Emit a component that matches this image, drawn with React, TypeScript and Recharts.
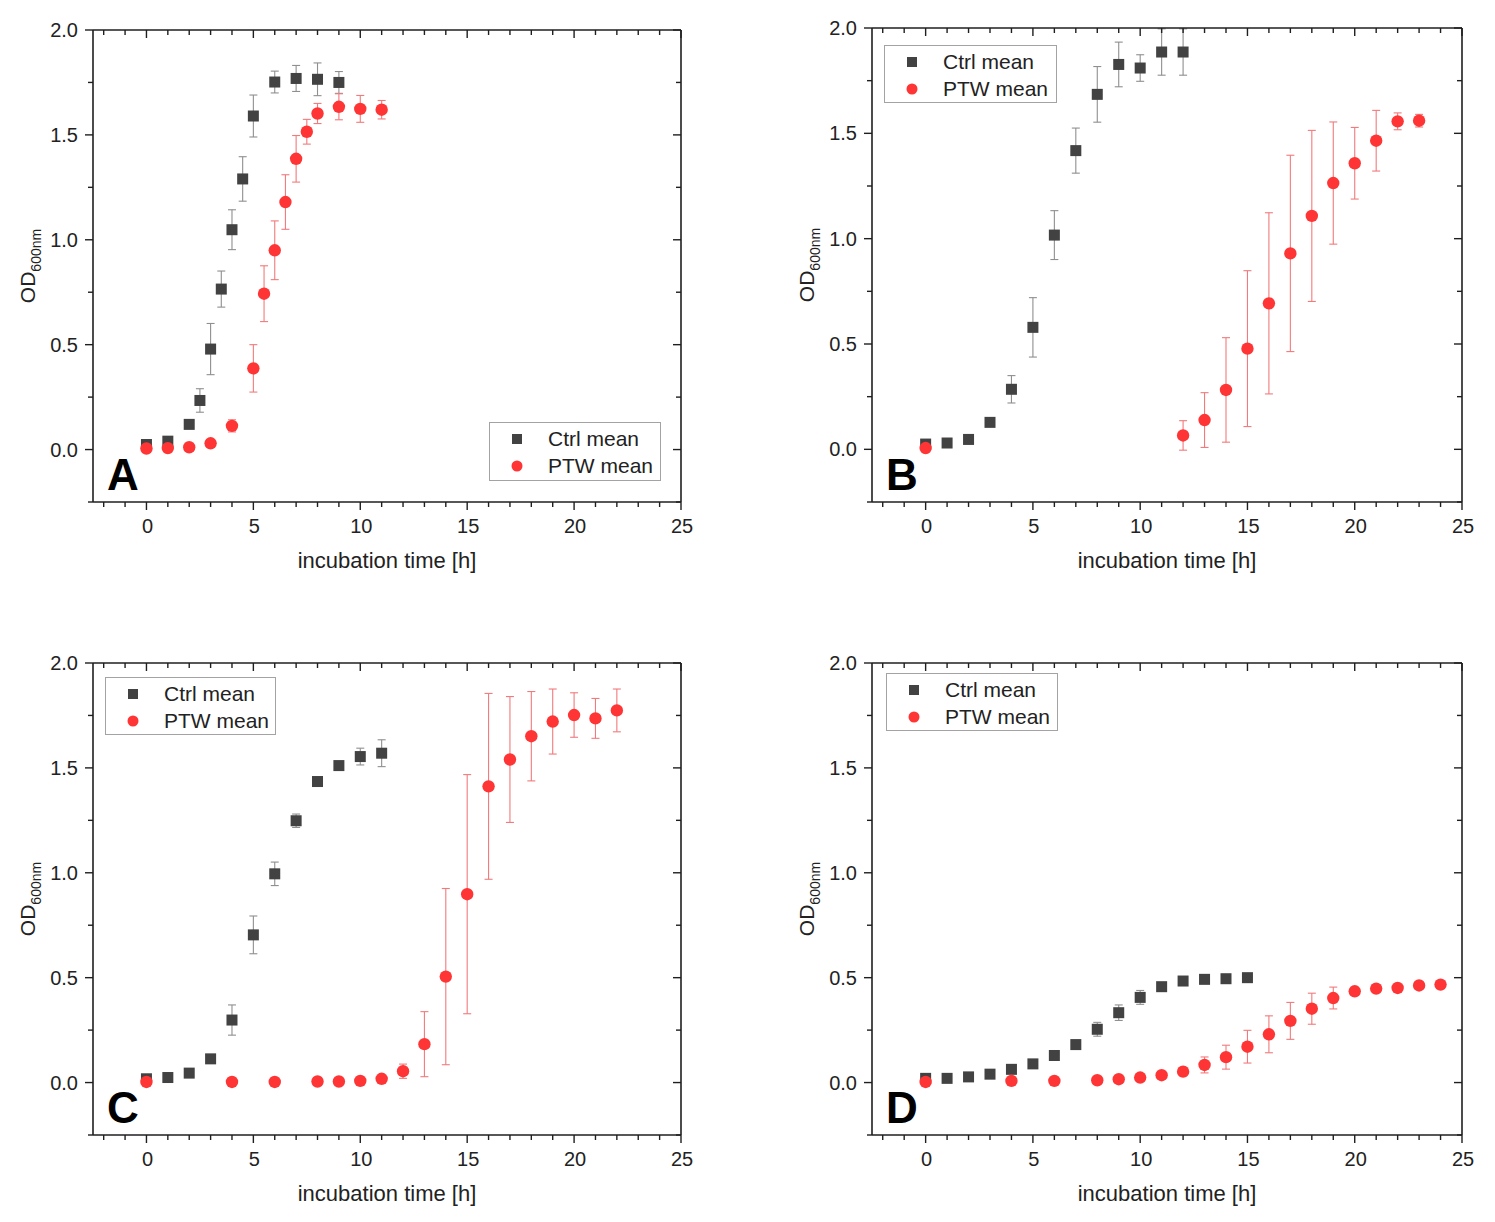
import React from 'react';
import { ScatterChart, Scatter, XAxis, YAxis, ErrorBar, Legend } from 'recharts';

// ---------- Panel A ----------
const ctrlTimeA = [0, 1, 2, 2.5, 3, 3.5, 4, 4.5, 5, 6, 7, 8, 9];
const ctrlMeanA = [0.024, 0.04, 0.12, 0.234, 0.479, 0.765, 1.048, 1.29, 1.59, 1.752, 1.769, 1.765, 1.75];
const ctrlErrA = [0.01, 0.01, 0.01, 0.056, 0.122, 0.086, 0.095, 0.106, 0.1, 0.052, 0.062, 0.078, 0.052];
const ptwTimeA = [0, 1, 2, 3, 4, 5, 5.5, 6, 6.5, 7, 7.5, 8, 9, 10, 11];
const ptwMeanA = [0.005, 0.007, 0.011, 0.03, 0.113, 0.387, 0.743, 0.95, 1.18, 1.386, 1.515, 1.602, 1.634, 1.624, 1.62];
const ptwErrA = [0, 0, 0, 0.005, 0.029, 0.113, 0.133, 0.14, 0.13, 0.111, 0.059, 0.048, 0.062, 0.064, 0.044];

// ---------- Panel B ----------
const ctrlTimeB = [0, 1, 2, 3, 4, 5, 6, 7, 8, 9, 10, 11, 12];
const ctrlMeanB = [0.025, 0.03, 0.047, 0.128, 0.285, 0.579, 1.017, 1.418, 1.685, 1.827, 1.81, 1.886, 1.886];
const ctrlErrB = [0.005, 0.005, 0.008, 0.012, 0.065, 0.141, 0.116, 0.107, 0.132, 0.106, 0.063, 0.11, 0.11];
const ptwTimeB = [0, 12, 13, 14, 15, 16, 17, 18, 19, 20, 21, 22, 23];
const ptwMeanB = [0.006, 0.066, 0.139, 0.282, 0.478, 0.693, 0.93, 1.108, 1.264, 1.358, 1.465, 1.557, 1.56];
const ptwErrB = [0, 0.07, 0.13, 0.248, 0.37, 0.43, 0.466, 0.406, 0.29, 0.17, 0.144, 0.04, 0.03];

// ---------- Panel C ----------
const ctrlTimeC = [0, 1, 2, 3, 4, 5, 6, 7, 8, 9, 10, 11];
const ctrlMeanC = [0.018, 0.024, 0.045, 0.113, 0.298, 0.704, 0.995, 1.248, 1.435, 1.511, 1.554, 1.57];
const ctrlErrC = [0.005, 0.005, 0.005, 0.01, 0.072, 0.09, 0.056, 0.032, 0.012, 0.015, 0.04, 0.064];
const ptwTimeC = [0, 4, 6, 8, 9, 10, 11, 12, 13, 14, 15, 16, 17, 18, 19, 20, 21, 22];
const ptwMeanC = [0.003, 0.003, 0.003, 0.005, 0.005, 0.008, 0.018, 0.054, 0.183, 0.505, 0.898, 1.412, 1.54, 1.651, 1.721, 1.752, 1.736, 1.774];
const ptwErrC = [0, 0, 0, 0, 0, 0, 0.005, 0.034, 0.155, 0.42, 0.57, 0.443, 0.3, 0.213, 0.155, 0.106, 0.095, 0.102];

// ---------- Panel D ----------
const ctrlTimeD = [0, 1, 2, 3, 4, 5, 6, 7, 8, 9, 10, 11, 12, 13, 14, 15];
const ctrlMeanD = [0.02, 0.02, 0.027, 0.04, 0.063, 0.089, 0.129, 0.181, 0.254, 0.333, 0.406, 0.457, 0.484, 0.492, 0.495, 0.5];
const ctrlErrD = [0.005, 0.005, 0.005, 0.005, 0.008, 0.008, 0.01, 0.01, 0.033, 0.037, 0.033, 0.018, 0.008, 0.008, 0.008, 0.008];
const ptwTimeD = [0, 4, 6, 8, 9, 10, 11, 12, 13, 14, 15, 16, 17, 18, 19, 20, 21, 22, 23, 24];
const ptwMeanD = [0.003, 0.008, 0.008, 0.011, 0.016, 0.024, 0.035, 0.052, 0.084, 0.121, 0.171, 0.23, 0.294, 0.352, 0.403, 0.435, 0.448, 0.451, 0.463, 0.467];
const ptwErrD = [0, 0, 0, 0, 0.005, 0.005, 0.008, 0.02, 0.038, 0.057, 0.078, 0.088, 0.088, 0.074, 0.052, 0.02, 0.01, 0.01, 0.008, 0.008];

// ---------- Axes ----------
const xTicks = [-2, -1, 0, 1, 2, 3, 4, 5, 6, 7, 8, 9, 10, 11, 12, 13, 14, 15, 16, 17, 18, 19, 20, 21, 22, 23, 24, 25];
const xMajorTicks = [0, 5, 10, 15, 20, 25];
const yTicks = [-0.25, 0, 0.25, 0.5, 0.75, 1, 1.25, 1.5, 1.75, 2];
const yMajorTicks = [0, 0.5, 1, 1.5, 2];
const xDomain = [-2.5, 25];
const yDomain = [-0.25, 2];

const seriesNames = ['Ctrl mean', 'PTW mean'];
const xAxisTitle = 'incubation time [h]';

const FONT = '"Liberation Sans", Arial, Helvetica, sans-serif';
const AXIS = '#1f1f1f';
const CTRL = '#424242';
const PTW = '#ff3535';
const CTRL_ERR = '#8f8f8f';
const PTW_ERR = '#f27a7c';
const AX_SIZE = 1;

const zip = (t: number[], m: number[], e: number[]) => t.map((x, i) => ({ t: x, od: m[i], e: e[i] }));

const isMajorX = (v: number) => xMajorTicks.includes(v);
const isMajorY = (v: number) => yMajorTicks.some((m) => Math.abs(m - v) < 1e-9);

function BottomTick(props: any) {
  const { x, y, payload } = props;
  const major = isMajorX(payload.value);
  return (
    <g>
      <line x1={x} y1={y} x2={x} y2={y + (major ? 8 : 5)} stroke={AXIS} strokeWidth={1.4} />
      {major && (
        <text x={x + 1} y={y + 31} textAnchor="middle" fontSize={20} fill="#222" fontFamily={FONT}>
          {payload.value}
        </text>
      )}
    </g>
  );
}

function TopTick(props: any) {
  const { x, y, payload } = props;
  const major = isMajorX(payload.value);
  return <line x1={x} y1={y} x2={x} y2={y + (major ? 8 : 5)} stroke={AXIS} strokeWidth={1.4} />;
}

function LeftTick(props: any) {
  const { x, y, payload } = props;
  const major = isMajorY(payload.value);
  return (
    <g>
      <line x1={x} y1={y} x2={x - (major ? 8 : 5)} y2={y} stroke={AXIS} strokeWidth={1.4} />
      {major && (
        <text x={x - 15} y={y + 7} textAnchor="end" fontSize={20} fill="#222" fontFamily={FONT}>
          {Number(payload.value).toFixed(1)}
        </text>
      )}
    </g>
  );
}

function RightTick(props: any) {
  const { x, y, payload } = props;
  const major = isMajorY(payload.value);
  return <line x1={x} y1={y} x2={x - (major ? 8 : 5)} y2={y} stroke={AXIS} strokeWidth={1.4} />;
}

function SquareDot(props: any) {
  const { cx, cy } = props;
  if (cx == null || cy == null) return null;
  return <rect x={cx - 5.5} y={cy - 5.5} width={11} height={11} fill={CTRL} />;
}

function CircleDot(props: any) {
  const { cx, cy } = props;
  if (cx == null || cy == null) return null;
  return <circle cx={cx} cy={cy} r={6.2} fill={PTW} />;
}

function LegendBox(props: any) {
  const payload = props.payload || [];
  return (
    <div
      style={{
        width: '100%',
        height: '100%',
        boxSizing: 'border-box',
        border: '1px solid #a3a3a3',
        background: '#fff',
        position: 'relative',
        fontFamily: FONT,
        fontSize: 21,
        color: '#222',
      }}
    >
      {payload.map((entry: any, i: number) => (
        <div
          key={i}
          style={{ position: 'absolute', left: 0, top: 3 + i * 27, height: 26, display: 'flex', alignItems: 'center', whiteSpace: 'nowrap' }}
        >
          <svg width={58} height={26} style={{ display: 'block' }}>
            {entry.type === 'square' ? (
              <rect x={22} y={8} width={10} height={10} fill={CTRL} />
            ) : (
              <circle cx={27} cy={13} r={5.5} fill={PTW} />
            )}
          </svg>
          <span>{entry.value}</span>
        </div>
      ))}
    </div>
  );
}

type PanelProps = {
  letter: string;
  ctrl: { t: number; od: number; e: number }[];
  ptw: { t: number; od: number; e: number }[];
  pos: { left: number; top: number; width: number; height: number };
  plot: { top: number; right: number; bottom: number; left: number };
  legend: { left: number; top: number; width: number; height: number };
};

function Panel({ letter, ctrl, ptw, pos, plot, legend }: PanelProps) {
  const margin = {
    top: plot.top - AX_SIZE,
    right: plot.right - AX_SIZE,
    bottom: plot.bottom - AX_SIZE,
    left: plot.left - AX_SIZE,
  };
  const xLabel = (p: any) => {
    const vb = p.viewBox || {};
    return (
      <g>
        <text x={vb.x + 14} y={vb.y - 12} fontSize={44} fontWeight="bold" fill="#000" fontFamily={FONT}>
          {letter}
        </text>
        <text x={vb.x + vb.width / 2} y={vb.y + 66} textAnchor="middle" fontSize={22} fill="#222" fontFamily={FONT}>
          {xAxisTitle}
        </text>
      </g>
    );
  };
  const yLabel = (p: any) => {
    const vb = p.viewBox || {};
    const cx = vb.x + (vb.width || 0) - 58;
    const cy = vb.y + vb.height / 2;
    return (
      <text transform={`rotate(-90, ${cx}, ${cy})`} x={cx} y={cy} textAnchor="middle" fontSize={21} fill="#222" fontFamily={FONT}>
        OD
        <tspan fontSize={14} dy={6}>
          600nm
        </tspan>
      </text>
    );
  };
  return (
    <div style={{ position: 'absolute', left: pos.left, top: pos.top }}>
      <ScatterChart width={pos.width} height={pos.height} margin={margin}>
        <XAxis
          xAxisId="bottom"
          dataKey="t"
          type="number"
          orientation="bottom"
          domain={xDomain}
          ticks={xTicks}
          interval={0}
          allowDataOverflow
          height={AX_SIZE}
          tickSize={0}
          tickMargin={0}
          tickLine={false}
          tick={<BottomTick />}
          axisLine={{ stroke: AXIS, strokeWidth: 1.6 }}
          label={xLabel}
        />
        <XAxis
          xAxisId="top"
          dataKey="t"
          type="number"
          orientation="top"
          domain={xDomain}
          ticks={xTicks}
          interval={0}
          allowDataOverflow
          height={AX_SIZE}
          tickSize={0}
          tickMargin={0}
          tickLine={false}
          tick={<TopTick />}
          axisLine={{ stroke: AXIS, strokeWidth: 1.6 }}
        />
        <YAxis
          yAxisId="left"
          dataKey="od"
          type="number"
          orientation="left"
          domain={yDomain}
          ticks={yTicks}
          interval={0}
          allowDataOverflow
          width={AX_SIZE}
          tickSize={0}
          tickMargin={0}
          tickLine={false}
          tick={<LeftTick />}
          axisLine={{ stroke: AXIS, strokeWidth: 1.6 }}
          label={yLabel}
        />
        <YAxis
          yAxisId="right"
          dataKey="od"
          type="number"
          orientation="right"
          domain={yDomain}
          ticks={yTicks}
          interval={0}
          allowDataOverflow
          width={AX_SIZE}
          tickSize={0}
          tickMargin={0}
          tickLine={false}
          tick={<RightTick />}
          axisLine={{ stroke: AXIS, strokeWidth: 1.6 }}
        />
        <Legend
          layout="horizontal"
          verticalAlign="middle"
          align="center"
          width={legend.width}
          height={legend.height}
          wrapperStyle={{ left: legend.left, top: legend.top, width: legend.width, height: legend.height }}
          content={<LegendBox />}
        />
        <Scatter
          name={seriesNames[0]}
          data={ctrl}
          xAxisId="bottom"
          yAxisId="left"
          legendType="square"
          fill={CTRL}
          shape={<SquareDot />}
          isAnimationActive={false}
        >
          <ErrorBar dataKey="e" direction="y" width={4} stroke={CTRL_ERR} strokeWidth={1.1} />
        </Scatter>
        <Scatter
          name={seriesNames[1]}
          data={ptw}
          xAxisId="top"
          yAxisId="right"
          legendType="circle"
          fill={PTW}
          shape={<CircleDot />}
          isAnimationActive={false}
        >
          <ErrorBar dataKey="e" direction="y" width={4} stroke={PTW_ERR} strokeWidth={1.1} />
        </Scatter>
      </ScatterChart>
    </div>
  );
}

export default function App() {
  return (
    <div style={{ position: 'absolute', left: 0, top: 0, width: 1495, height: 1222, background: '#fff', overflow: 'hidden' }}>
      <Panel
        letter="A"
        ctrl={zip(ctrlTimeA, ctrlMeanA, ctrlErrA)}
        ptw={zip(ptwTimeA, ptwMeanA, ptwErrA)}
        pos={{ left: 0, top: 0, width: 747, height: 611 }}
        plot={{ top: 30, right: 66, bottom: 109, left: 93 }}
        legend={{ left: 489, top: 422, width: 172, height: 59 }}
      />
      <Panel
        letter="B"
        ctrl={zip(ctrlTimeB, ctrlMeanB, ctrlErrB)}
        ptw={zip(ptwTimeB, ptwMeanB, ptwErrB)}
        pos={{ left: 747, top: 0, width: 748, height: 611 }}
        plot={{ top: 28, right: 33, bottom: 109, left: 125 }}
        legend={{ left: 137, top: 45, width: 173, height: 58 }}
      />
      <Panel
        letter="C"
        ctrl={zip(ctrlTimeC, ctrlMeanC, ctrlErrC)}
        ptw={zip(ptwTimeC, ptwMeanC, ptwErrC)}
        pos={{ left: 0, top: 611, width: 747, height: 611 }}
        plot={{ top: 52, right: 66, bottom: 87, left: 93 }}
        legend={{ left: 105, top: 66, width: 171, height: 58 }}
      />
      <Panel
        letter="D"
        ctrl={zip(ctrlTimeD, ctrlMeanD, ctrlErrD)}
        ptw={zip(ptwTimeD, ptwMeanD, ptwErrD)}
        pos={{ left: 747, top: 611, width: 748, height: 611 }}
        plot={{ top: 52, right: 33, bottom: 87, left: 125 }}
        legend={{ left: 139, top: 62, width: 172, height: 58 }}
      />
    </div>
  );
}
